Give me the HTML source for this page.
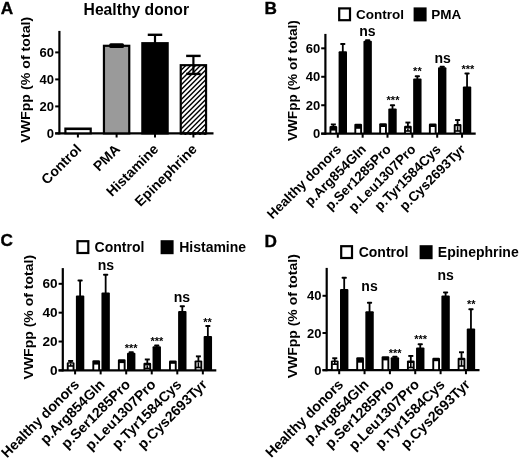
<!DOCTYPE html>
<html><head><meta charset="utf-8"><style>
html,body{margin:0;padding:0;background:#fff;}
svg{display:block;filter:grayscale(1);}
text{font-family:"Liberation Sans", sans-serif;font-weight:bold;fill:#000;}
</style></head><body>
<svg width="520" height="458" viewBox="0 0 520 458">
<rect width="520" height="458" fill="#fff"/>
<text x="0.80" y="13.60" font-size="17.2" text-anchor="start" stroke="#000" stroke-width="0.35">A</text>
<text x="136.30" y="15.30" font-size="15.7" text-anchor="middle">Healthy donor</text>
<line x1="59.40" y1="30.90" x2="59.40" y2="134.40" stroke="#000" stroke-width="2.2"/>
<line x1="55.20" y1="133.40" x2="213.50" y2="133.40" stroke="#000" stroke-width="2.2"/>
<line x1="55.20" y1="133.40" x2="59.40" y2="133.40" stroke="#000" stroke-width="2"/>
<text x="54.00" y="138.00" font-size="13" text-anchor="end">0</text>
<line x1="55.20" y1="106.40" x2="59.40" y2="106.40" stroke="#000" stroke-width="2"/>
<text x="54.00" y="111.00" font-size="13" text-anchor="end">20</text>
<line x1="55.20" y1="79.40" x2="59.40" y2="79.40" stroke="#000" stroke-width="2"/>
<text x="54.00" y="84.00" font-size="13" text-anchor="end">40</text>
<line x1="55.20" y1="52.40" x2="59.40" y2="52.40" stroke="#000" stroke-width="2"/>
<text x="54.00" y="57.00" font-size="13" text-anchor="end">60</text>
<text transform="translate(29.90 79.80) rotate(-90) scale(1.1 1)" font-size="12.9" text-anchor="middle">VWFpp (% of total)</text>
<line x1="77.90" y1="133.40" x2="77.90" y2="137.50" stroke="#000" stroke-width="2"/>
<line x1="116.60" y1="133.40" x2="116.60" y2="137.50" stroke="#000" stroke-width="2"/>
<line x1="155.00" y1="133.40" x2="155.00" y2="137.50" stroke="#000" stroke-width="2"/>
<line x1="193.40" y1="133.40" x2="193.40" y2="137.50" stroke="#000" stroke-width="2"/>
<rect x="64.30" y="127.50" width="27.50" height="6.90" fill="#000"/>
<rect x="66.50" y="130.10" width="23.10" height="2.20" fill="#fff"/>
<rect x="103.95" y="45.80" width="25.30" height="87.60" fill="#9a9a9a" stroke="#000" stroke-width="2.2"/>
<rect x="109.20" y="43.2" width="14.8" height="4.9" rx="1.5" fill="#000"/>
<rect x="142.35" y="43.20" width="25.30" height="90.20" fill="#000" stroke="#000" stroke-width="2.2"/>
<line x1="155.00" y1="43.20" x2="155.00" y2="34.80" stroke="#000" stroke-width="2.2"/>
<line x1="147.75" y1="34.80" x2="162.25" y2="34.80" stroke="#000" stroke-width="2.4"/>
<defs><clipPath id="cpE"><rect x="180.75" y="65" width="25.30" height="70"/></clipPath></defs>
<g clip-path="url(#cpE)"><path d="M81.55,135.40 L153.55,63.40 M86.45,135.40 L158.45,63.40 M91.35,135.40 L163.35,63.40 M96.25,135.40 L168.25,63.40 M101.15,135.40 L173.15,63.40 M106.05,135.40 L178.05,63.40 M110.95,135.40 L182.95,63.40 M115.85,135.40 L187.85,63.40 M120.75,135.40 L192.75,63.40 M125.65,135.40 L197.65,63.40 M130.55,135.40 L202.55,63.40 M135.45,135.40 L207.45,63.40 M140.35,135.40 L212.35,63.40 M145.25,135.40 L217.25,63.40 M150.15,135.40 L222.15,63.40 M155.05,135.40 L227.05,63.40 M159.95,135.40 L231.95,63.40 M164.85,135.40 L236.85,63.40 M169.75,135.40 L241.75,63.40 M174.65,135.40 L246.65,63.40 M179.55,135.40 L251.55,63.40 M184.45,135.40 L256.45,63.40 M189.35,135.40 L261.35,63.40 M194.25,135.40 L266.25,63.40 M199.15,135.40 L271.15,63.40 M204.05,135.40 L276.05,63.40 M208.95,135.40 L280.95,63.40 M213.85,135.40 L285.85,63.40 M218.75,135.40 L290.75,63.40 M223.65,135.40 L295.65,63.40 M228.55,135.40 L300.55,63.40 M233.45,135.40 L305.45,63.40 M238.35,135.40 L310.35,63.40 M243.25,135.40 L315.25,63.40 M248.15,135.40 L320.15,63.40 M253.05,135.40 L325.05,63.40 M257.95,135.40 L329.95,63.40 M262.85,135.40 L334.85,63.40 M267.75,135.40 L339.75,63.40 M272.65,135.40 L344.65,63.40 M277.55,135.40 L349.55,63.40 M282.45,135.40 L354.45,63.40 M287.35,135.40 L359.35,63.40 M292.25,135.40 L364.25,63.40 M297.15,135.40 L369.15,63.40 M302.05,135.40 L374.05,63.40 M306.95,135.40 L378.95,63.40 M311.85,135.40 L383.85,63.40 M316.75,135.40 L388.75,63.40 M321.65,135.40 L393.65,63.40" stroke="#000" stroke-width="1.4"/></g>
<rect x="180.75" y="65.20" width="25.30" height="68.20" fill="none" stroke="#000" stroke-width="2.2"/>
<line x1="193.40" y1="65.20" x2="193.40" y2="55.90" stroke="#000" stroke-width="2.2"/>
<line x1="186.15" y1="55.90" x2="200.65" y2="55.90" stroke="#000" stroke-width="2.4"/>
<line x1="193.40" y1="65.20" x2="193.40" y2="73.90" stroke="#000" stroke-width="2.2"/>
<line x1="186.15" y1="73.90" x2="200.65" y2="73.90" stroke="#000" stroke-width="2.4"/>
<text x="82.20" y="150.00" font-size="14" text-anchor="end" transform="rotate(-45 82.20 150.00)">Control</text>
<text x="120.90" y="150.00" font-size="14" text-anchor="end" transform="rotate(-45 120.90 150.00)">PMA</text>
<text x="159.30" y="150.00" font-size="14" text-anchor="end" transform="rotate(-45 159.30 150.00)">Histamine</text>
<text x="197.70" y="150.00" font-size="14" text-anchor="end" transform="rotate(-45 197.70 150.00)">Epinephrine</text>
<text x="264.60" y="13.50" font-size="17.2" text-anchor="start" stroke="#000" stroke-width="0.35">B</text>
<line x1="325.40" y1="33.90" x2="325.40" y2="134.70" stroke="#000" stroke-width="2.2"/>
<line x1="321.20" y1="133.70" x2="475.70" y2="133.70" stroke="#000" stroke-width="2.2"/>
<line x1="321.20" y1="133.70" x2="325.40" y2="133.70" stroke="#000" stroke-width="2"/>
<text x="320.20" y="138.30" font-size="13" text-anchor="end">0</text>
<line x1="321.20" y1="105.24" x2="325.40" y2="105.24" stroke="#000" stroke-width="2"/>
<text x="320.20" y="109.84" font-size="13" text-anchor="end">20</text>
<line x1="321.20" y1="76.78" x2="325.40" y2="76.78" stroke="#000" stroke-width="2"/>
<text x="320.20" y="81.38" font-size="13" text-anchor="end">40</text>
<line x1="321.20" y1="48.32" x2="325.40" y2="48.32" stroke="#000" stroke-width="2"/>
<text x="320.20" y="52.92" font-size="13" text-anchor="end">60</text>
<text transform="translate(296.80 80.60) rotate(-90) scale(1.09 1)" font-size="12.5" text-anchor="middle">VWFpp (% of total)</text>
<rect x="339.20" y="8.40" width="10.80" height="11.80" fill="#fff" stroke="#000" stroke-width="2.2"/>
<text x="356.00" y="18.60" font-size="13.5" text-anchor="start">Control</text>
<rect x="413.60" y="7.40" width="13.00" height="14.00" fill="#000"/>
<text x="431.20" y="18.60" font-size="13.5" text-anchor="start">PMA</text>
<line x1="337.80" y1="133.70" x2="337.80" y2="137.70" stroke="#000" stroke-width="2"/>
<line x1="333.35" y1="124.50" x2="333.35" y2="126.90" stroke="#000" stroke-width="1.8"/>
<rect x="330.85" y="123.50" width="5.00" height="1.90" fill="#000"/>
<rect x="329.50" y="125.90" width="7.70" height="7.80" rx="1.2" fill="#000"/>
<rect x="331.40" y="130.60" width="3.90" height="2.10" fill="#fff"/>
<line x1="342.80" y1="44.00" x2="342.80" y2="52.20" stroke="#000" stroke-width="1.8"/>
<rect x="340.20" y="43.00" width="5.2" height="2" rx="0.8" fill="#000"/>
<rect x="338.60" y="51.20" width="8.40" height="82.50" rx="1" fill="#000"/>
<line x1="362.65" y1="133.70" x2="362.65" y2="137.70" stroke="#000" stroke-width="2"/>
<rect x="354.35" y="123.80" width="7.70" height="9.90" rx="1.2" fill="#000"/>
<rect x="356.25" y="128.80" width="3.90" height="3.90" fill="#fff"/>
<line x1="367.65" y1="40.30" x2="367.65" y2="41.80" stroke="#000" stroke-width="1.8"/>
<rect x="365.05" y="39.30" width="5.2" height="2" rx="0.8" fill="#000"/>
<rect x="363.45" y="40.80" width="8.40" height="92.90" rx="1" fill="#000"/>
<line x1="387.50" y1="133.70" x2="387.50" y2="137.70" stroke="#000" stroke-width="2"/>
<rect x="379.20" y="123.20" width="7.70" height="10.50" rx="1.2" fill="#000"/>
<rect x="381.10" y="127.00" width="3.90" height="5.70" fill="#fff"/>
<line x1="392.50" y1="105.20" x2="392.50" y2="109.60" stroke="#000" stroke-width="1.8"/>
<rect x="389.90" y="104.20" width="5.2" height="2" rx="0.8" fill="#000"/>
<rect x="388.30" y="108.60" width="8.40" height="25.10" rx="1" fill="#000"/>
<line x1="412.35" y1="133.70" x2="412.35" y2="137.70" stroke="#000" stroke-width="2"/>
<line x1="407.90" y1="122.60" x2="407.90" y2="126.80" stroke="#000" stroke-width="1.8"/>
<rect x="405.40" y="121.60" width="5.00" height="1.90" fill="#000"/>
<rect x="404.05" y="125.80" width="7.70" height="7.90" rx="1.2" fill="#000"/>
<rect x="405.95" y="128.50" width="3.90" height="4.20" fill="#fff"/>
<line x1="407.90" y1="128.50" x2="407.90" y2="131.00" stroke="#000" stroke-width="1.6"/>
<line x1="405.40" y1="131.00" x2="410.40" y2="131.00" stroke="#000" stroke-width="1.6"/>
<line x1="417.35" y1="76.30" x2="417.35" y2="79.40" stroke="#000" stroke-width="1.8"/>
<rect x="414.75" y="75.30" width="5.2" height="2" rx="0.8" fill="#000"/>
<rect x="413.15" y="78.40" width="8.40" height="55.30" rx="1" fill="#000"/>
<line x1="437.20" y1="133.70" x2="437.20" y2="137.70" stroke="#000" stroke-width="2"/>
<rect x="428.90" y="123.50" width="7.70" height="10.20" rx="1.2" fill="#000"/>
<rect x="430.80" y="127.00" width="3.90" height="5.70" fill="#fff"/>
<line x1="442.20" y1="66.80" x2="442.20" y2="68.20" stroke="#000" stroke-width="1.8"/>
<rect x="439.60" y="65.80" width="5.2" height="2" rx="0.8" fill="#000"/>
<rect x="438.00" y="67.20" width="8.40" height="66.50" rx="1" fill="#000"/>
<line x1="462.05" y1="133.70" x2="462.05" y2="137.70" stroke="#000" stroke-width="2"/>
<line x1="457.60" y1="120.10" x2="457.60" y2="124.90" stroke="#000" stroke-width="1.8"/>
<rect x="455.10" y="119.10" width="5.00" height="1.90" fill="#000"/>
<rect x="453.75" y="123.90" width="7.70" height="9.80" rx="1.2" fill="#000"/>
<rect x="455.65" y="126.20" width="3.90" height="6.50" fill="#fff"/>
<line x1="457.60" y1="126.20" x2="457.60" y2="131.00" stroke="#000" stroke-width="1.6"/>
<line x1="455.10" y1="131.00" x2="460.10" y2="131.00" stroke="#000" stroke-width="1.6"/>
<line x1="467.05" y1="73.60" x2="467.05" y2="87.40" stroke="#000" stroke-width="1.8"/>
<rect x="464.45" y="72.60" width="5.2" height="2" rx="0.8" fill="#000"/>
<rect x="462.85" y="86.40" width="8.40" height="47.30" rx="1" fill="#000"/>
<text x="367.40" y="35.90" font-size="14" text-anchor="middle">ns</text>
<text x="393.00" y="103.80" font-size="11" text-anchor="middle">***</text>
<text x="417.40" y="75.10" font-size="11" text-anchor="middle">**</text>
<text x="442.70" y="62.70" font-size="14" text-anchor="middle">ns</text>
<text x="467.90" y="73.00" font-size="11" text-anchor="middle">***</text>
<text x="342.10" y="150.20" font-size="13.5" text-anchor="end" transform="rotate(-45 342.10 150.20)">Healthy donors</text>
<text x="366.95" y="150.20" font-size="13.5" text-anchor="end" transform="rotate(-45 366.95 150.20)">p.Arg854Gln</text>
<text x="391.80" y="150.20" font-size="13.5" text-anchor="end" transform="rotate(-45 391.80 150.20)">p.Ser1285Pro</text>
<text x="416.65" y="150.20" font-size="13.5" text-anchor="end" transform="rotate(-45 416.65 150.20)">p.Leu1307Pro</text>
<text x="441.50" y="150.20" font-size="13.5" text-anchor="end" transform="rotate(-45 441.50 150.20)">p.Tyr1584Cys</text>
<text x="466.35" y="150.20" font-size="13.5" text-anchor="end" transform="rotate(-45 466.35 150.20)">p.Cys2693Tyr</text>
<text x="0.60" y="246.40" font-size="17.2" text-anchor="start" stroke="#000" stroke-width="0.35">C</text>
<line x1="62.80" y1="268.10" x2="62.80" y2="371.40" stroke="#000" stroke-width="2.2"/>
<line x1="58.60" y1="370.40" x2="216.30" y2="370.40" stroke="#000" stroke-width="2.2"/>
<line x1="58.60" y1="370.40" x2="62.80" y2="370.40" stroke="#000" stroke-width="2"/>
<text x="57.60" y="375.00" font-size="13.6" text-anchor="end">0</text>
<line x1="58.60" y1="341.54" x2="62.80" y2="341.54" stroke="#000" stroke-width="2"/>
<text x="57.60" y="346.14" font-size="13.6" text-anchor="end">20</text>
<line x1="58.60" y1="312.68" x2="62.80" y2="312.68" stroke="#000" stroke-width="2"/>
<text x="57.60" y="317.28" font-size="13.6" text-anchor="end">40</text>
<line x1="58.60" y1="283.82" x2="62.80" y2="283.82" stroke="#000" stroke-width="2"/>
<text x="57.60" y="288.42" font-size="13.6" text-anchor="end">60</text>
<text transform="translate(33.40 317.20) rotate(-90) scale(1.055 1)" font-size="13.3" text-anchor="middle">VWFpp (% of total)</text>
<rect x="77.50" y="241.20" width="10.80" height="11.80" fill="#fff" stroke="#000" stroke-width="2.2"/>
<text x="94.60" y="251.60" font-size="14" text-anchor="start">Control</text>
<rect x="160.60" y="240.20" width="13.00" height="14.00" fill="#000"/>
<text x="179.20" y="251.60" font-size="14" text-anchor="start">Histamine</text>
<line x1="75.10" y1="370.40" x2="75.10" y2="374.40" stroke="#000" stroke-width="2"/>
<line x1="70.65" y1="361.00" x2="70.65" y2="363.30" stroke="#000" stroke-width="1.8"/>
<rect x="68.15" y="360.00" width="5.00" height="1.90" fill="#000"/>
<rect x="66.80" y="362.30" width="7.70" height="8.10" rx="1.2" fill="#000"/>
<rect x="68.70" y="363.50" width="3.90" height="5.90" fill="#fff"/>
<line x1="70.65" y1="363.50" x2="70.65" y2="366.00" stroke="#000" stroke-width="1.6"/>
<line x1="68.15" y1="366.00" x2="73.15" y2="366.00" stroke="#000" stroke-width="1.6"/>
<line x1="80.10" y1="280.60" x2="80.10" y2="296.60" stroke="#000" stroke-width="1.8"/>
<rect x="77.50" y="279.60" width="5.2" height="2" rx="0.8" fill="#000"/>
<rect x="75.90" y="295.60" width="8.40" height="74.80" rx="1" fill="#000"/>
<line x1="100.65" y1="370.40" x2="100.65" y2="374.40" stroke="#000" stroke-width="2"/>
<rect x="92.35" y="360.20" width="7.70" height="10.20" rx="1.2" fill="#000"/>
<rect x="94.25" y="364.60" width="3.90" height="4.80" fill="#fff"/>
<line x1="105.65" y1="274.70" x2="105.65" y2="293.50" stroke="#000" stroke-width="1.8"/>
<rect x="103.05" y="273.70" width="5.2" height="2" rx="0.8" fill="#000"/>
<rect x="101.45" y="292.50" width="8.40" height="77.90" rx="1" fill="#000"/>
<line x1="126.20" y1="370.40" x2="126.20" y2="374.40" stroke="#000" stroke-width="2"/>
<rect x="117.90" y="359.20" width="7.70" height="11.20" rx="1.2" fill="#000"/>
<rect x="119.80" y="363.10" width="3.90" height="6.30" fill="#fff"/>
<line x1="131.20" y1="352.20" x2="131.20" y2="353.70" stroke="#000" stroke-width="1.8"/>
<rect x="128.60" y="351.20" width="5.2" height="2" rx="0.8" fill="#000"/>
<rect x="127.00" y="352.70" width="8.40" height="17.70" rx="1" fill="#000"/>
<line x1="151.75" y1="370.40" x2="151.75" y2="374.40" stroke="#000" stroke-width="2"/>
<line x1="147.30" y1="359.50" x2="147.30" y2="363.70" stroke="#000" stroke-width="1.8"/>
<rect x="144.80" y="358.50" width="5.00" height="1.90" fill="#000"/>
<rect x="143.45" y="362.70" width="7.70" height="7.70" rx="1.2" fill="#000"/>
<rect x="145.35" y="365.40" width="3.90" height="4.00" fill="#fff"/>
<line x1="147.30" y1="365.40" x2="147.30" y2="368.50" stroke="#000" stroke-width="1.6"/>
<line x1="144.80" y1="368.50" x2="149.80" y2="368.50" stroke="#000" stroke-width="1.6"/>
<line x1="156.75" y1="345.60" x2="156.75" y2="347.20" stroke="#000" stroke-width="1.8"/>
<rect x="154.15" y="344.60" width="5.2" height="2" rx="0.8" fill="#000"/>
<rect x="152.55" y="346.20" width="8.40" height="24.20" rx="1" fill="#000"/>
<line x1="177.30" y1="370.40" x2="177.30" y2="374.40" stroke="#000" stroke-width="2"/>
<rect x="169.00" y="360.40" width="7.70" height="10.00" rx="1.2" fill="#000"/>
<rect x="170.90" y="363.80" width="3.90" height="5.60" fill="#fff"/>
<line x1="182.30" y1="306.30" x2="182.30" y2="312.00" stroke="#000" stroke-width="1.8"/>
<rect x="179.70" y="305.30" width="5.2" height="2" rx="0.8" fill="#000"/>
<rect x="178.10" y="311.00" width="8.40" height="59.40" rx="1" fill="#000"/>
<line x1="202.85" y1="370.40" x2="202.85" y2="374.40" stroke="#000" stroke-width="2"/>
<line x1="198.40" y1="356.40" x2="198.40" y2="361.40" stroke="#000" stroke-width="1.8"/>
<rect x="195.90" y="355.40" width="5.00" height="1.90" fill="#000"/>
<rect x="194.55" y="360.40" width="7.70" height="10.00" rx="1.2" fill="#000"/>
<rect x="196.45" y="362.30" width="3.90" height="7.10" fill="#fff"/>
<line x1="198.40" y1="362.30" x2="198.40" y2="367.50" stroke="#000" stroke-width="1.6"/>
<line x1="195.90" y1="367.50" x2="200.90" y2="367.50" stroke="#000" stroke-width="1.6"/>
<line x1="207.85" y1="326.10" x2="207.85" y2="336.90" stroke="#000" stroke-width="1.8"/>
<rect x="205.25" y="325.10" width="5.2" height="2" rx="0.8" fill="#000"/>
<rect x="203.65" y="335.90" width="8.40" height="34.50" rx="1" fill="#000"/>
<text x="105.90" y="269.80" font-size="14" text-anchor="middle">ns</text>
<text x="131.20" y="352.30" font-size="11" text-anchor="middle">***</text>
<text x="156.80" y="344.60" font-size="11" text-anchor="middle">***</text>
<text x="181.90" y="301.50" font-size="14" text-anchor="middle">ns</text>
<text x="207.50" y="326.20" font-size="11" text-anchor="middle">**</text>
<text x="80.10" y="385.40" font-size="14.2" text-anchor="end" transform="rotate(-45 80.10 385.40)">Healthy donors</text>
<text x="105.65" y="385.40" font-size="14.2" text-anchor="end" transform="rotate(-45 105.65 385.40)">p.Arg854Gln</text>
<text x="131.20" y="385.40" font-size="14.2" text-anchor="end" transform="rotate(-45 131.20 385.40)">p.Ser1285Pro</text>
<text x="156.75" y="385.40" font-size="14.2" text-anchor="end" transform="rotate(-45 156.75 385.40)">p.Leu1307Pro</text>
<text x="182.30" y="385.40" font-size="14.2" text-anchor="end" transform="rotate(-45 182.30 385.40)">p.Tyr1584Cys</text>
<text x="207.85" y="385.40" font-size="14.2" text-anchor="end" transform="rotate(-45 207.85 385.40)">p.Cys2693Tyr</text>
<text x="264.60" y="246.60" font-size="17.2" text-anchor="start" stroke="#000" stroke-width="0.35">D</text>
<line x1="326.70" y1="267.90" x2="326.70" y2="371.20" stroke="#000" stroke-width="2.2"/>
<line x1="322.50" y1="370.20" x2="479.50" y2="370.20" stroke="#000" stroke-width="2.2"/>
<line x1="322.50" y1="370.20" x2="326.70" y2="370.20" stroke="#000" stroke-width="2"/>
<text x="321.50" y="374.80" font-size="13" text-anchor="end">0</text>
<line x1="322.50" y1="333.00" x2="326.70" y2="333.00" stroke="#000" stroke-width="2"/>
<text x="321.50" y="337.60" font-size="13" text-anchor="end">20</text>
<line x1="322.50" y1="295.80" x2="326.70" y2="295.80" stroke="#000" stroke-width="2"/>
<text x="321.50" y="300.40" font-size="13" text-anchor="end">40</text>
<text transform="translate(297.40 316.20) rotate(-90) scale(1.05 1)" font-size="13.3" text-anchor="middle">VWFpp (% of total)</text>
<rect x="341.20" y="246.20" width="10.80" height="11.80" fill="#fff" stroke="#000" stroke-width="2.2"/>
<text x="358.70" y="256.80" font-size="14" text-anchor="start">Control</text>
<rect x="419.60" y="245.20" width="13.00" height="14.00" fill="#000"/>
<text x="437.80" y="256.80" font-size="14" text-anchor="start">Epinephrine</text>
<line x1="339.20" y1="370.20" x2="339.20" y2="374.20" stroke="#000" stroke-width="2"/>
<line x1="334.75" y1="358.30" x2="334.75" y2="361.40" stroke="#000" stroke-width="1.8"/>
<rect x="332.25" y="357.30" width="5.00" height="1.90" fill="#000"/>
<rect x="330.90" y="360.40" width="7.70" height="9.80" rx="1.2" fill="#000"/>
<rect x="332.80" y="362.00" width="3.90" height="7.20" fill="#fff"/>
<line x1="334.75" y1="362.00" x2="334.75" y2="364.20" stroke="#000" stroke-width="1.6"/>
<line x1="332.25" y1="364.20" x2="337.25" y2="364.20" stroke="#000" stroke-width="1.6"/>
<line x1="344.20" y1="277.80" x2="344.20" y2="290.10" stroke="#000" stroke-width="1.8"/>
<rect x="341.60" y="276.80" width="5.2" height="2" rx="0.8" fill="#000"/>
<rect x="340.00" y="289.10" width="8.40" height="81.10" rx="1" fill="#000"/>
<line x1="364.55" y1="370.20" x2="364.55" y2="374.20" stroke="#000" stroke-width="2"/>
<rect x="356.25" y="357.30" width="7.70" height="12.90" rx="1.2" fill="#000"/>
<rect x="358.15" y="362.70" width="3.90" height="6.50" fill="#fff"/>
<line x1="369.55" y1="302.70" x2="369.55" y2="312.30" stroke="#000" stroke-width="1.8"/>
<rect x="366.95" y="301.70" width="5.2" height="2" rx="0.8" fill="#000"/>
<rect x="365.35" y="311.30" width="8.40" height="58.90" rx="1" fill="#000"/>
<line x1="389.90" y1="370.20" x2="389.90" y2="374.20" stroke="#000" stroke-width="2"/>
<rect x="381.60" y="356.20" width="7.70" height="14.00" rx="1.2" fill="#000"/>
<rect x="383.50" y="360.40" width="3.90" height="8.80" fill="#fff"/>
<line x1="394.90" y1="356.80" x2="394.90" y2="358.20" stroke="#000" stroke-width="1.8"/>
<rect x="392.30" y="355.80" width="5.2" height="2" rx="0.8" fill="#000"/>
<rect x="390.70" y="357.20" width="8.40" height="13.00" rx="1" fill="#000"/>
<line x1="415.25" y1="370.20" x2="415.25" y2="374.20" stroke="#000" stroke-width="2"/>
<line x1="410.80" y1="356.00" x2="410.80" y2="361.40" stroke="#000" stroke-width="1.8"/>
<rect x="408.30" y="355.00" width="5.00" height="1.90" fill="#000"/>
<rect x="406.95" y="360.40" width="7.70" height="9.80" rx="1.2" fill="#000"/>
<rect x="408.85" y="363.00" width="3.90" height="6.20" fill="#fff"/>
<line x1="410.80" y1="363.00" x2="410.80" y2="367.50" stroke="#000" stroke-width="1.6"/>
<line x1="408.30" y1="367.50" x2="413.30" y2="367.50" stroke="#000" stroke-width="1.6"/>
<line x1="420.25" y1="344.30" x2="420.25" y2="348.60" stroke="#000" stroke-width="1.8"/>
<rect x="417.65" y="343.30" width="5.2" height="2" rx="0.8" fill="#000"/>
<rect x="416.05" y="347.60" width="8.40" height="22.60" rx="1" fill="#000"/>
<line x1="440.60" y1="370.20" x2="440.60" y2="374.20" stroke="#000" stroke-width="2"/>
<rect x="432.30" y="357.80" width="7.70" height="12.40" rx="1.2" fill="#000"/>
<rect x="434.20" y="361.20" width="3.90" height="8.00" fill="#fff"/>
<line x1="445.60" y1="292.40" x2="445.60" y2="296.40" stroke="#000" stroke-width="1.8"/>
<rect x="443.00" y="291.40" width="5.2" height="2" rx="0.8" fill="#000"/>
<rect x="441.40" y="295.40" width="8.40" height="74.80" rx="1" fill="#000"/>
<line x1="465.95" y1="370.20" x2="465.95" y2="374.20" stroke="#000" stroke-width="2"/>
<line x1="461.50" y1="352.30" x2="461.50" y2="358.80" stroke="#000" stroke-width="1.8"/>
<rect x="459.00" y="351.30" width="5.00" height="1.90" fill="#000"/>
<rect x="457.65" y="357.80" width="7.70" height="12.40" rx="1.2" fill="#000"/>
<rect x="459.55" y="360.20" width="3.90" height="9.00" fill="#fff"/>
<line x1="461.50" y1="360.20" x2="461.50" y2="366.00" stroke="#000" stroke-width="1.6"/>
<line x1="459.00" y1="366.00" x2="464.00" y2="366.00" stroke="#000" stroke-width="1.6"/>
<line x1="470.95" y1="309.20" x2="470.95" y2="329.50" stroke="#000" stroke-width="1.8"/>
<rect x="468.35" y="308.20" width="5.2" height="2" rx="0.8" fill="#000"/>
<rect x="466.75" y="328.50" width="8.40" height="41.70" rx="1" fill="#000"/>
<text x="369.50" y="291.30" font-size="14" text-anchor="middle">ns</text>
<text x="395.20" y="356.60" font-size="11" text-anchor="middle">***</text>
<text x="420.70" y="342.60" font-size="11" text-anchor="middle">***</text>
<text x="445.60" y="279.60" font-size="14" text-anchor="middle">ns</text>
<text x="471.20" y="307.80" font-size="11" text-anchor="middle">**</text>
<text x="344.20" y="385.30" font-size="14.2" text-anchor="end" transform="rotate(-45 344.20 385.30)">Healthy donors</text>
<text x="369.55" y="385.30" font-size="14.2" text-anchor="end" transform="rotate(-45 369.55 385.30)">p.Arg854Gln</text>
<text x="394.90" y="385.30" font-size="14.2" text-anchor="end" transform="rotate(-45 394.90 385.30)">p.Ser1285Pro</text>
<text x="420.25" y="385.30" font-size="14.2" text-anchor="end" transform="rotate(-45 420.25 385.30)">p.Leu1307Pro</text>
<text x="445.60" y="385.30" font-size="14.2" text-anchor="end" transform="rotate(-45 445.60 385.30)">p.Tyr1584Cys</text>
<text x="470.95" y="385.30" font-size="14.2" text-anchor="end" transform="rotate(-45 470.95 385.30)">p.Cys2693Tyr</text>
</svg></body></html>
